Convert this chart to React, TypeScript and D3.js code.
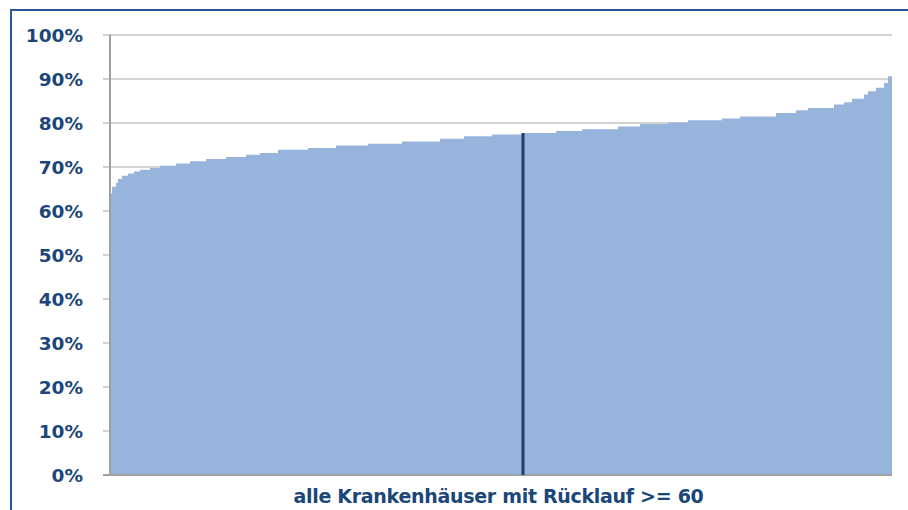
import React from "react";
import * as d3 from "d3";

// Sorted response rates (in %) as plateaus, with the number of hospitals at each level
const levels = [64.0, 65.5, 66.4, 67.3, 68.0, 68.5, 69.0, 69.4, 69.8, 70.3, 70.8, 71.3, 71.8, 72.3, 72.8, 73.2, 73.9, 74.3, 74.9, 75.3, 75.8, 76.4, 77.0, 77.4, 77.7, 78.2, 78.6, 79.2, 79.8, 80.1, 80.6, 81.0, 81.5, 82.3, 82.9, 83.4, 84.2, 84.7, 85.5, 86.5, 87.2, 88.0, 89.1, 90.6];
const counts = [1, 2, 1, 2, 3, 3, 3, 5, 5, 8, 7, 8, 10, 10, 7, 9, 15, 14, 16, 17, 19, 12, 14, 15, 17, 13, 18, 11, 14, 10, 17, 9, 18, 10, 6, 13, 5, 4, 6, 2, 4, 4, 2, 2];

const yTicks = [0, 10, 20, 30, 40, 50, 60, 70, 80, 90, 100];
const yTickLabels = ["0%", "10%", "20%", "30%", "40%", "50%", "60%", "70%", "80%", "90%", "100%"];
const xAxisTitle = "alle Krankenhäuser mit Rücklauf >= 60";
const medianIndex = 206.5;
const medianValue = 77.7;

const W = 908;
const H = 510;
const plot = { left: 110, right: 892, top: 35, bottom: 475 };
const textColor = "#1B4679";
const fillColor = "#97B4DC";
const font = "'DejaVu Sans', Verdana, sans-serif";

export default function App() {
  const values: number[] = [];
  levels.forEach((v, i) => {
    for (let k = 0; k < counts[i]; k++) values.push(v);
  });
  const n = values.length;
  const x = d3.scaleLinear().domain([0, n]).range([plot.left, plot.right]);
  const y = d3.scaleLinear().domain([0, 100]).range([plot.bottom, plot.top]);

  const pts: [number, number][] = values.map((v, i) => [i, v]);
  pts.push([n, values[n - 1]]);
  const area = d3
    .area<[number, number]>()
    .x((d) => x(d[0]))
    .y0(y(0))
    .y1((d) => y(d[1]))
    .curve(d3.curveStepAfter);

  return (
    <svg
      width={W}
      height={H}
      style={{ position: "absolute", left: 0, top: 0, background: "#fff" }}
    >
      <rect x={0} y={0} width={W} height={H} fill="#fff" />
      {/* gridlines + ticks */}
      {yTicks.map((t) => (
        <line
          key={"g" + t}
          x1={plot.left - 7}
          x2={plot.right}
          y1={y(t)}
          y2={y(t)}
          stroke="#C4C4C4"
          strokeWidth={1.5}
        />
      ))}
      {/* distribution */}
      <path d={area(pts) || ""} fill={fillColor} />
      {/* axes */}
      <line x1={plot.left} x2={plot.left} y1={y(100)} y2={y(0)} stroke="#A0A0A0" strokeWidth={2} />
      <line x1={plot.left - 7} x2={plot.right} y1={y(0)} y2={y(0)} stroke="#A0A0A0" strokeWidth={2} />
      {/* median line */}
      <line
        x1={x(medianIndex)}
        x2={x(medianIndex)}
        y1={y(0)}
        y2={y(medianValue)}
        stroke="#1F3D6E"
        strokeWidth={3}
      />
      {/* tick labels */}
      {yTicks.map((t, i) => (
        <text
          key={"l" + t}
          x={83}
          y={y(t)}
          dy="0.36em"
          textAnchor="end"
          fontFamily={font}
          fontWeight="bold"
          fontSize={18.5}
          fill={textColor}
        >
          {yTickLabels[i]}
        </text>
      ))}
      <text
        x={498.5}
        y={503}
        textAnchor="middle"
        fontFamily={font}
        fontWeight="bold"
        fontSize={19}
        fill={textColor}
        letterSpacing={-0.3}
      >
        {xAxisTitle}
      </text>
      {/* outer frame */}
      <rect x={11} y={10} width={1000} height={1000} fill="none" stroke="#2F5496" strokeWidth={2} />
    </svg>
  );
}
